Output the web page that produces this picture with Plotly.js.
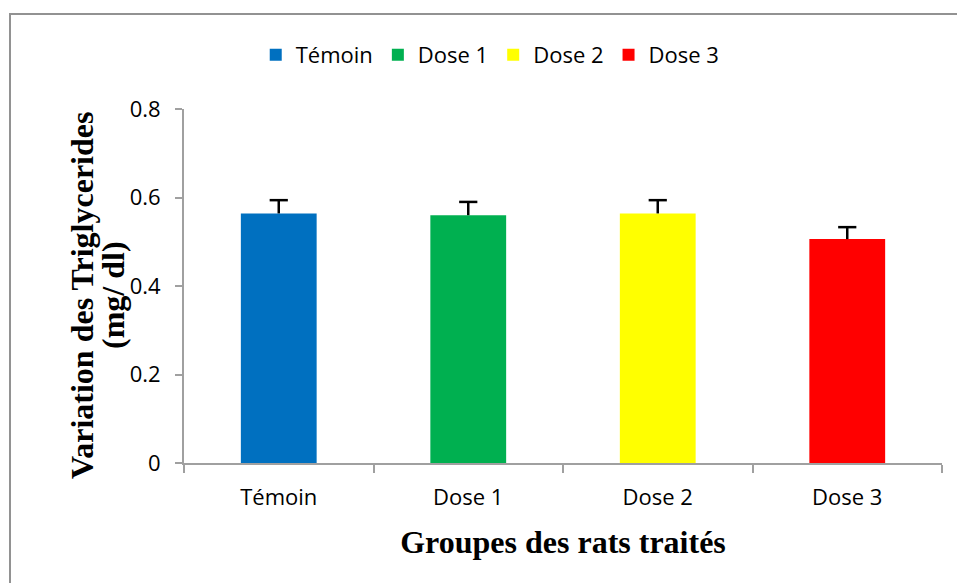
<!DOCTYPE html>
<html><head><meta charset="utf-8">
<script src="https://cdn.plot.ly/plotly-3.0.1.min.js"></script>
<style>
html,body{margin:0;padding:0;background:#fff;overflow:hidden;}
#frame{position:absolute;left:9px;top:13px;width:1000px;height:700px;border:2px solid #929292;box-sizing:border-box;}
#chart{position:absolute;left:0;top:0;width:957px;height:583px;}
</style></head>
<body>
<div id="frame"></div>
<div id="chart"></div>
<script>
const categories = ["Témoin", "Dose 1", "Dose 2", "Dose 3"];
const values = [0.564, 0.560, 0.564, 0.506];
const errors = [0.030, 0.030, 0.030, 0.027];
const colors = ["#0070C0", "#00B050", "#FFFF00", "#FF0000"];
const yTicks = [0, 0.2, 0.4, 0.6, 0.8];
const yTickText = ["0", "0.2", "0.4", "0.6", "0.8"];
const yTitleLines = ["Variation des Triglycerides", "(mg/ dl)"];
const xTitle = "Groupes des rats traités";

const traces = categories.map((c, i) => ({
  type: "bar",
  name: c,
  x: [c],
  y: [values[i]],
  width: 0.4,
  marker: {color: colors[i]},
  error_y: {type: "data", array: [errors[i]], symmetric: false, arrayminus: [0], color: "#000", thickness: 2.5, width: 0},
  showlegend: true
}));
traces.push({
  type: "scatter", mode: "markers", showlegend: false, hoverinfo: "skip",
  x: categories,
  y: values.map((v, i) => v + errors[i]),
  marker: {symbol: "line-ew", size: 13, line: {color: "#000", width: 2.5}}
});

const titleFont = {family: "Liberation Serif, serif", size: 32, weight: "bold", color: "#000"};

const layout = {
  width: 957, height: 583,
  paper_bgcolor: "rgba(0,0,0,0)", plot_bgcolor: "rgba(0,0,0,0)",
  margin: {l: 184, r: 15, t: 109, b: 120},
  barmode: "overlay",
  font: {family: "Open Sans, sans-serif", color: "#000"},
  legend: {orientation: "h", x: 0.404, xanchor: "center", y: 1.153, yanchor: "middle",
    font: {size: 22, family: "Open Sans, sans-serif"}, itemwidth: 30, traceorder: "normal"},
  xaxis: {
    type: "category", categoryorder: "array", categoryarray: categories,
    showline: true, linecolor: "#a0a0a0", linewidth: 2,
    ticks: "outside", tickson: "boundaries", ticklen: 8, tickcolor: "#a0a0a0", tickwidth: 2,
    tickfont: {size: 22, family: "Open Sans, sans-serif"}, ticklabelstandoff: 14,
    title: {text: xTitle, font: titleFont, standoff: 20},
    showgrid: false, zeroline: false
  },
  yaxis: {
    range: [0, 0.8], tickvals: yTicks, ticktext: yTickText,
    showline: true, linecolor: "#a0a0a0", linewidth: 2,
    ticks: "outside", ticklen: 7, tickcolor: "#a0a0a0", tickwidth: 2,
    tickfont: {size: 22, family: "Open Sans, sans-serif"}, ticklabelstandoff: 10,
    showgrid: false, zeroline: false
  },
  annotations: [
    {text: yTitleLines[0], textangle: -90, xref: "paper", yref: "paper", x: -0.1346, y: 0.4746,
     xanchor: "center", yanchor: "middle", showarrow: false, font: titleFont},
    {text: yTitleLines[1], textangle: -90, xref: "paper", yref: "paper", x: -0.0937, y: 0.4746,
     xanchor: "center", yanchor: "middle", showarrow: false, font: titleFont}
  ]
};

Plotly.newPlot("chart", traces, layout, {displayModeBar: false, staticPlot: true});
</script>
</body></html>
